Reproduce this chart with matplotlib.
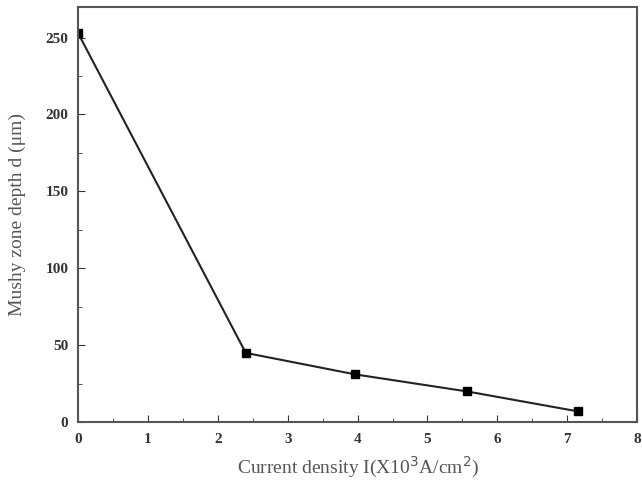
import matplotlib
matplotlib.use('Agg')
import matplotlib.pyplot as plt
from matplotlib.ticker import MultipleLocator

# data
current_density = [0.0, 2.4, 3.97, 5.56, 7.15]
mushy_depth = [253, 45, 31, 20, 7]

plt.rcParams['font.family'] = ['Liberation Serif', 'DejaVu Serif']

fig = plt.figure(figsize=(6.42, 4.88), dpi=100)
ax = fig.add_axes([0.1215, 0.135, 0.871, 0.851])

ax.plot(current_density, mushy_depth, color='#222222', lw=1.5,
        marker='s', markersize=6, markerfacecolor='black', markeredgecolor='black')

ax.set_xlim(0, 8)
ax.set_ylim(0, 270)
ax.xaxis.set_major_locator(MultipleLocator(1))
ax.xaxis.set_minor_locator(MultipleLocator(0.5))
ax.yaxis.set_major_locator(MultipleLocator(50))
ax.yaxis.set_minor_locator(MultipleLocator(25))
ax.tick_params(which='both', direction='in', labelsize=11, colors='#333333')
ax.tick_params(which='major', length=5)
ax.tick_params(which='minor', length=3)
ax.tick_params(axis='x', pad=8)
ax.tick_params(axis='y', pad=7)
for lbl in ax.get_xticklabels() + ax.get_yticklabels():
    lbl.set_fontweight('bold')
for s in ax.spines.values():
    s.set_linewidth(1.5)
    s.set_color('#555555')

ax.set_xlabel('Current density I(X10$^3$A/cm$^2$)', fontsize=14, color='#555555', labelpad=6)
ax.set_ylabel('Mushy zone depth d (μm)', fontsize=14, color='#555555', labelpad=14)

fig.savefig('out.png', dpi=100)
